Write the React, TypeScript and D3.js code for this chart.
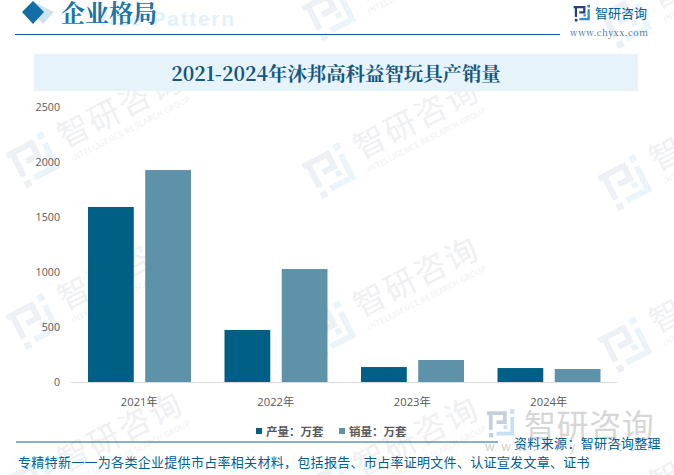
import React from "react";
import * as d3 from "d3";

const years = ["2021年", "2022年", "2023年", "2024年"];
const production = [1591, 473, 136, 127];
const sales = [1927, 1027, 200, 118];
const yTicks = [0, 500, 1000, 1500, 2000, 2500];
const seriesNames = ["产量：万套", "销量：万套"];
const seriesColors = ["#005f85", "#5e92a9"];
const chartTitle = "2021-2024年沐邦高科益智玩具产销量";
const sectionTitle = "企业格局";
const ghostTitle = "Enterprise Pattern";
const footerLeft = "专精特新一一为各类企业提供市占率相关材料，包括报告、市占率证明文件、认证宣发文章、证书";
const footerRight = "资料来源：智研咨询整理";
const watermarks: [number, number][] = [
  [34, -30], [34, 161], [34, 323], [34, 485],
  [330, 14], [330, 172], [330, 330], [330, 490],
  [626, 22], [626, 184], [626, 346], [626, 508],
];

const serif = "'Noto Serif CJK SC','Liberation Serif','DejaVu Serif',serif";
const sans = "'Noto Sans CJK SC','Noto Sans',sans-serif";

function Logo({ c1, c2, s = 1 }: { c1: string; c2: string; s?: number }) {
  return (
    <g transform={`scale(${s})`}>
      <g fill="none" stroke={c1} strokeWidth={6}>
        <path d="M-22,-17 H6 V-3 H-7" />
        <path d="M-16,-17 V9" />
      </g>
      <rect x={-19} y={14} width={7} height={7} fill={c1} />
      <rect x={14} y={-23} width={7} height={7} fill={c2} />
      <path d="M17.5,-11 V15 H-7 M4,5 H10" fill="none" stroke={c2} strokeWidth={6} />
    </g>
  );
}

function Watermark({ x, y }: { x: number; y: number }) {
  return (
    <g transform={`translate(${x},${y}) rotate(-27)`}>
      <Logo c1="#edf0f4" c2="#eaf4f9" />
      <text x={33} y={3} fontFamily={sans} fontSize={32} fill="#eff0f2" letterSpacing={2}>智研咨询</text>
      <text x={35} y={18} fontFamily={sans} fontSize={8} fill="#eff0f2" textLength={132}>INTELLIGENCE RESEARCH GROUP</text>
    </g>
  );
}

export default function App() {
  const x0 = d3.scaleBand<string>().domain(years).range([71, 617]);
  const x1 = d3.scaleBand<string>().domain(["p", "s"]).range([17, 120]).paddingInner(0.2);
  const y = d3.scaleLinear().domain([0, 2500]).range([382, 107]);
  const series = [{ k: "p", v: production }, { k: "s", v: sales }];
  return (
    <svg width={674} height={475} viewBox="0 0 674 475" style={{ position: "absolute", left: 0, top: 0, background: "#fff" }}>
      {watermarks.map(([a, b], i) => <Watermark key={i} x={a} y={b} />)}

      <path d="M33 1 L55 12 L44 24 L33 12 Z" fill="#cfe2ee" transform="translate(-1,0)" />
      <path d="M33 1 L44 12 L33 24 L22 12 Z" fill="#146ea6" />
      <text x={100} y={26} fontFamily="'Liberation Sans',sans-serif" fontSize={21} fontWeight={700} fill="#e3f1fb" textLength={134}>{ghostTitle.slice(6)}</text>
      <text x={61} y={22} fontFamily={serif} fontSize={24} fontWeight={700} fill="#1b75a8">{sectionTitle}</text>
      <line x1={15} x2={560} y1={34.5} y2={34.5} stroke="#0a64a0" strokeWidth={1.2} />

      <g transform="translate(582,13.5)"><Logo c1="#27407f" c2="#2f8ecf" s={0.38} /></g>
      <text x={595} y={18} fontFamily={sans} fontSize={13} fill="#005e94">智研咨询</text>
      <text x={570} y={36} fontFamily={serif} fontSize={9} fill="#3c6f92" textLength={78}>www.chyxx.com</text>

      <rect x={34} y={54} width={604} height={37} fill="#e6f3fb" />
      <text x={336} y={81} textAnchor="middle" fontFamily={serif} fontSize={19.4} fontWeight={700} fill="#14577f">{chartTitle}</text>

      {yTicks.map((t) => (
        <text key={t} x={60} y={y(t) + 3.8} textAnchor="end" fontFamily="'Open Sans',sans-serif" fontSize={10.7} fill="#595959">{t}</text>
      ))}

      {series.map((s, si) =>
        s.v.map((v, i) => (
          <rect key={s.k + i} x={x0(years[i])! + x1(s.k)!} y={y(v)} width={x1.bandwidth()} height={y(0) - y(v)} fill={seriesColors[si]} />
        ))
      )}
      <line x1={71} x2={617} y1={382.5} y2={382.5} stroke="#d9d9d9" strokeWidth={1} />

      {years.map((t) => (
        <text key={t} x={x0(t)! + x0.bandwidth() / 2} y={406} textAnchor="middle" fontFamily="'Open Sans','Noto Sans CJK SC',sans-serif" fontSize={11.2} fill="#595959">{t}</text>
      ))}

      {seriesNames.map((n, i) => (
        <g key={n} transform={`translate(${256 + i * 83},0)`}>
          <rect y={428} width={6} height={6} fill={seriesColors[i]} />
          <text x={10} y={436} fontFamily={sans} fontSize={11.5} fontWeight={700} fill="#595959">{n}</text>
        </g>
      ))}

      <g transform="translate(501,424)"><Logo c1="#c5d0dd" c2="#c5e0f0" s={0.64} /></g>
      <text x={524} y={437} fontFamily={sans} fontSize={32} fill="#d6d6d6" letterSpacing={0.6}>智研咨询</text>
      <text x={485} y={451} fontFamily={sans} fontSize={12} fill="#d0d0d0" textLength={169}>www.chyxx.com</text>

      <line x1={16} x2={498} y1={442} y2={442} stroke="#0a64a0" strokeWidth={1} />
      <text x={514} y={448} fontFamily={sans} fontSize={13} fill="#005e94" letterSpacing={0.35}>{footerRight}</text>
      <text x={18} y={467} fontFamily={sans} fontSize={13} fill="#005e94" letterSpacing={0.3}>{footerLeft}</text>
    </svg>
  );
}
